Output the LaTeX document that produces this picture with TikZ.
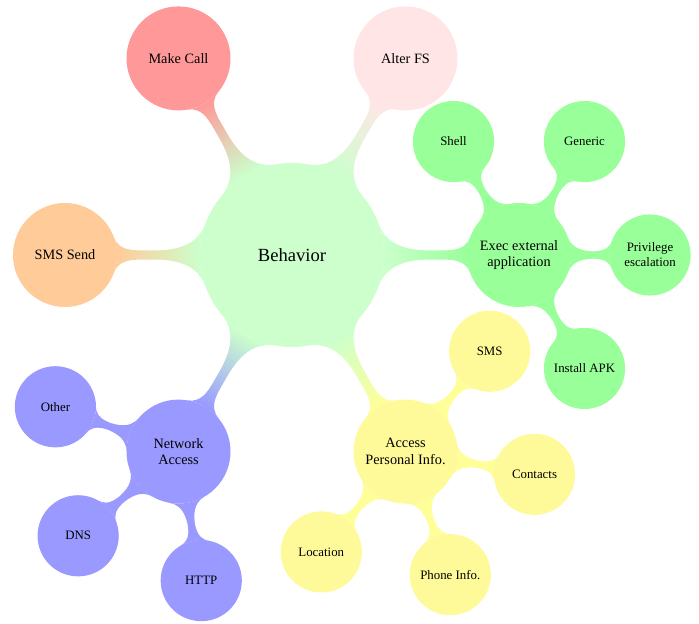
\documentclass[tikz,border=0pt]{standalone}
\usepackage{fontspec}
\setmainfont{Liberation Serif}
\usetikzlibrary{mindmap,backgrounds}
\colorlet{rootc}{green!20}
\colorlet{callc}{red!40}
\colorlet{fsc}{red!10}
\colorlet{smsc}{orange!40}
\colorlet{execc}{green!40}
\colorlet{accc}{yellow!40}
\colorlet{netc}{blue!40}
\begin{document}
\begin{tikzpicture}[x=0.7pt,y=0.7pt,
  rootnode/.style={circle, fill=rootc, draw=rootc, line width=0.8pt, minimum size=128pt, inner sep=0pt, align=center, font=\fontsize{13}{15}\selectfont},
  lvone/.style={circle, fill=#1, draw=#1, line width=0.8pt, minimum size=72pt, inner sep=0pt, align=center, font=\fontsize{10}{11.7}\selectfont},
  lvtwo/.style={circle, fill=#1, draw=#1, line width=0.8pt, minimum size=56pt, inner sep=0pt, align=center, font=\fontsize{9}{10.5}\selectfont},
  mainbar/.style={line width=15.4pt},
  subbar/.style={line width=12.6pt}
]
\useasboundingbox (0,0) rectangle (699,623);
\node[rootnode] (root) at (292,368) {Behavior};
\path (root) ++(120:227) node[lvone=callc] (call) {Make Call};
\path (root) ++(60:227) node[lvone=fsc] (fs) {Alter FS};
\path (root) ++(180:227) node[lvone=smsc] (smss) {SMS Send};
\path (root) ++(0:227) node[lvone=execc] (exec) {Exec external\\application};
\path (root) ++(-60:227) node[lvone=accc] (acc) {Access\\Personal Info.};
\path (root) ++(-120:227) node[lvone=netc] (net) {Network\\Access};
% exec children
\path (exec) ++(120:131) node[lvtwo=execc] (shell) {Shell};
\path (exec) ++(60:131) node[lvtwo=execc] (generic) {Generic};
\path (exec) ++(0:131) node[lvtwo=execc] (priv) {Privilege\\escalation};
\path (exec) ++(-60:131) node[lvtwo=execc] (apk) {Install APK};
% access children
\path (acc) ++(50:131) node[lvtwo=accc] (sms) {SMS};
\path (acc) ++(-10:131) node[lvtwo=accc] (contacts) {Contacts};
\path (acc) ++(-70:131) node[lvtwo=accc] (phone) {Phone Info.};
\path (acc) ++(-130:131) node[lvtwo=accc] (loc) {Location};
% network children
\path (net) ++(160:131) node[lvtwo=netc] (other) {Other};
\path (net) ++(-140:131) node[lvtwo=netc] (dns) {DNS};
\path (net) ++(-80:131) node[lvtwo=netc] (http) {HTTP};
\begin{pgfonlayer}{background}
\path[mainbar] (root) to[circle connection bar switch color=from (rootc) to (callc)] (call);
\path[mainbar] (root) to[circle connection bar switch color=from (rootc) to (fsc)] (fs);
\path[mainbar] (root) to[circle connection bar switch color=from (rootc) to (smsc)] (smss);
\path[mainbar] (root) to[circle connection bar switch color=from (rootc) to (execc)] (exec);
\path[mainbar] (root) to[circle connection bar switch color=from (rootc) to (accc)] (acc);
\path[mainbar] (root) to[circle connection bar switch color=from (rootc) to (netc)] (net);
\path[subbar] (exec) to[circle connection bar switch color=from (execc) to (execc)] (shell);
\path[subbar] (exec) to[circle connection bar switch color=from (execc) to (execc)] (generic);
\path[subbar] (exec) to[circle connection bar switch color=from (execc) to (execc)] (priv);
\path[subbar] (exec) to[circle connection bar switch color=from (execc) to (execc)] (apk);
\path[subbar] (acc) to[circle connection bar switch color=from (accc) to (accc)] (sms);
\path[subbar] (acc) to[circle connection bar switch color=from (accc) to (accc)] (contacts);
\path[subbar] (acc) to[circle connection bar switch color=from (accc) to (accc)] (phone);
\path[subbar] (acc) to[circle connection bar switch color=from (accc) to (accc)] (loc);
\path[subbar] (net) to[circle connection bar switch color=from (netc) to (netc)] (other);
\path[subbar] (net) to[circle connection bar switch color=from (netc) to (netc)] (dns);
\path[subbar] (net) to[circle connection bar switch color=from (netc) to (netc)] (http);
\end{pgfonlayer}
\end{tikzpicture}
\end{document}
